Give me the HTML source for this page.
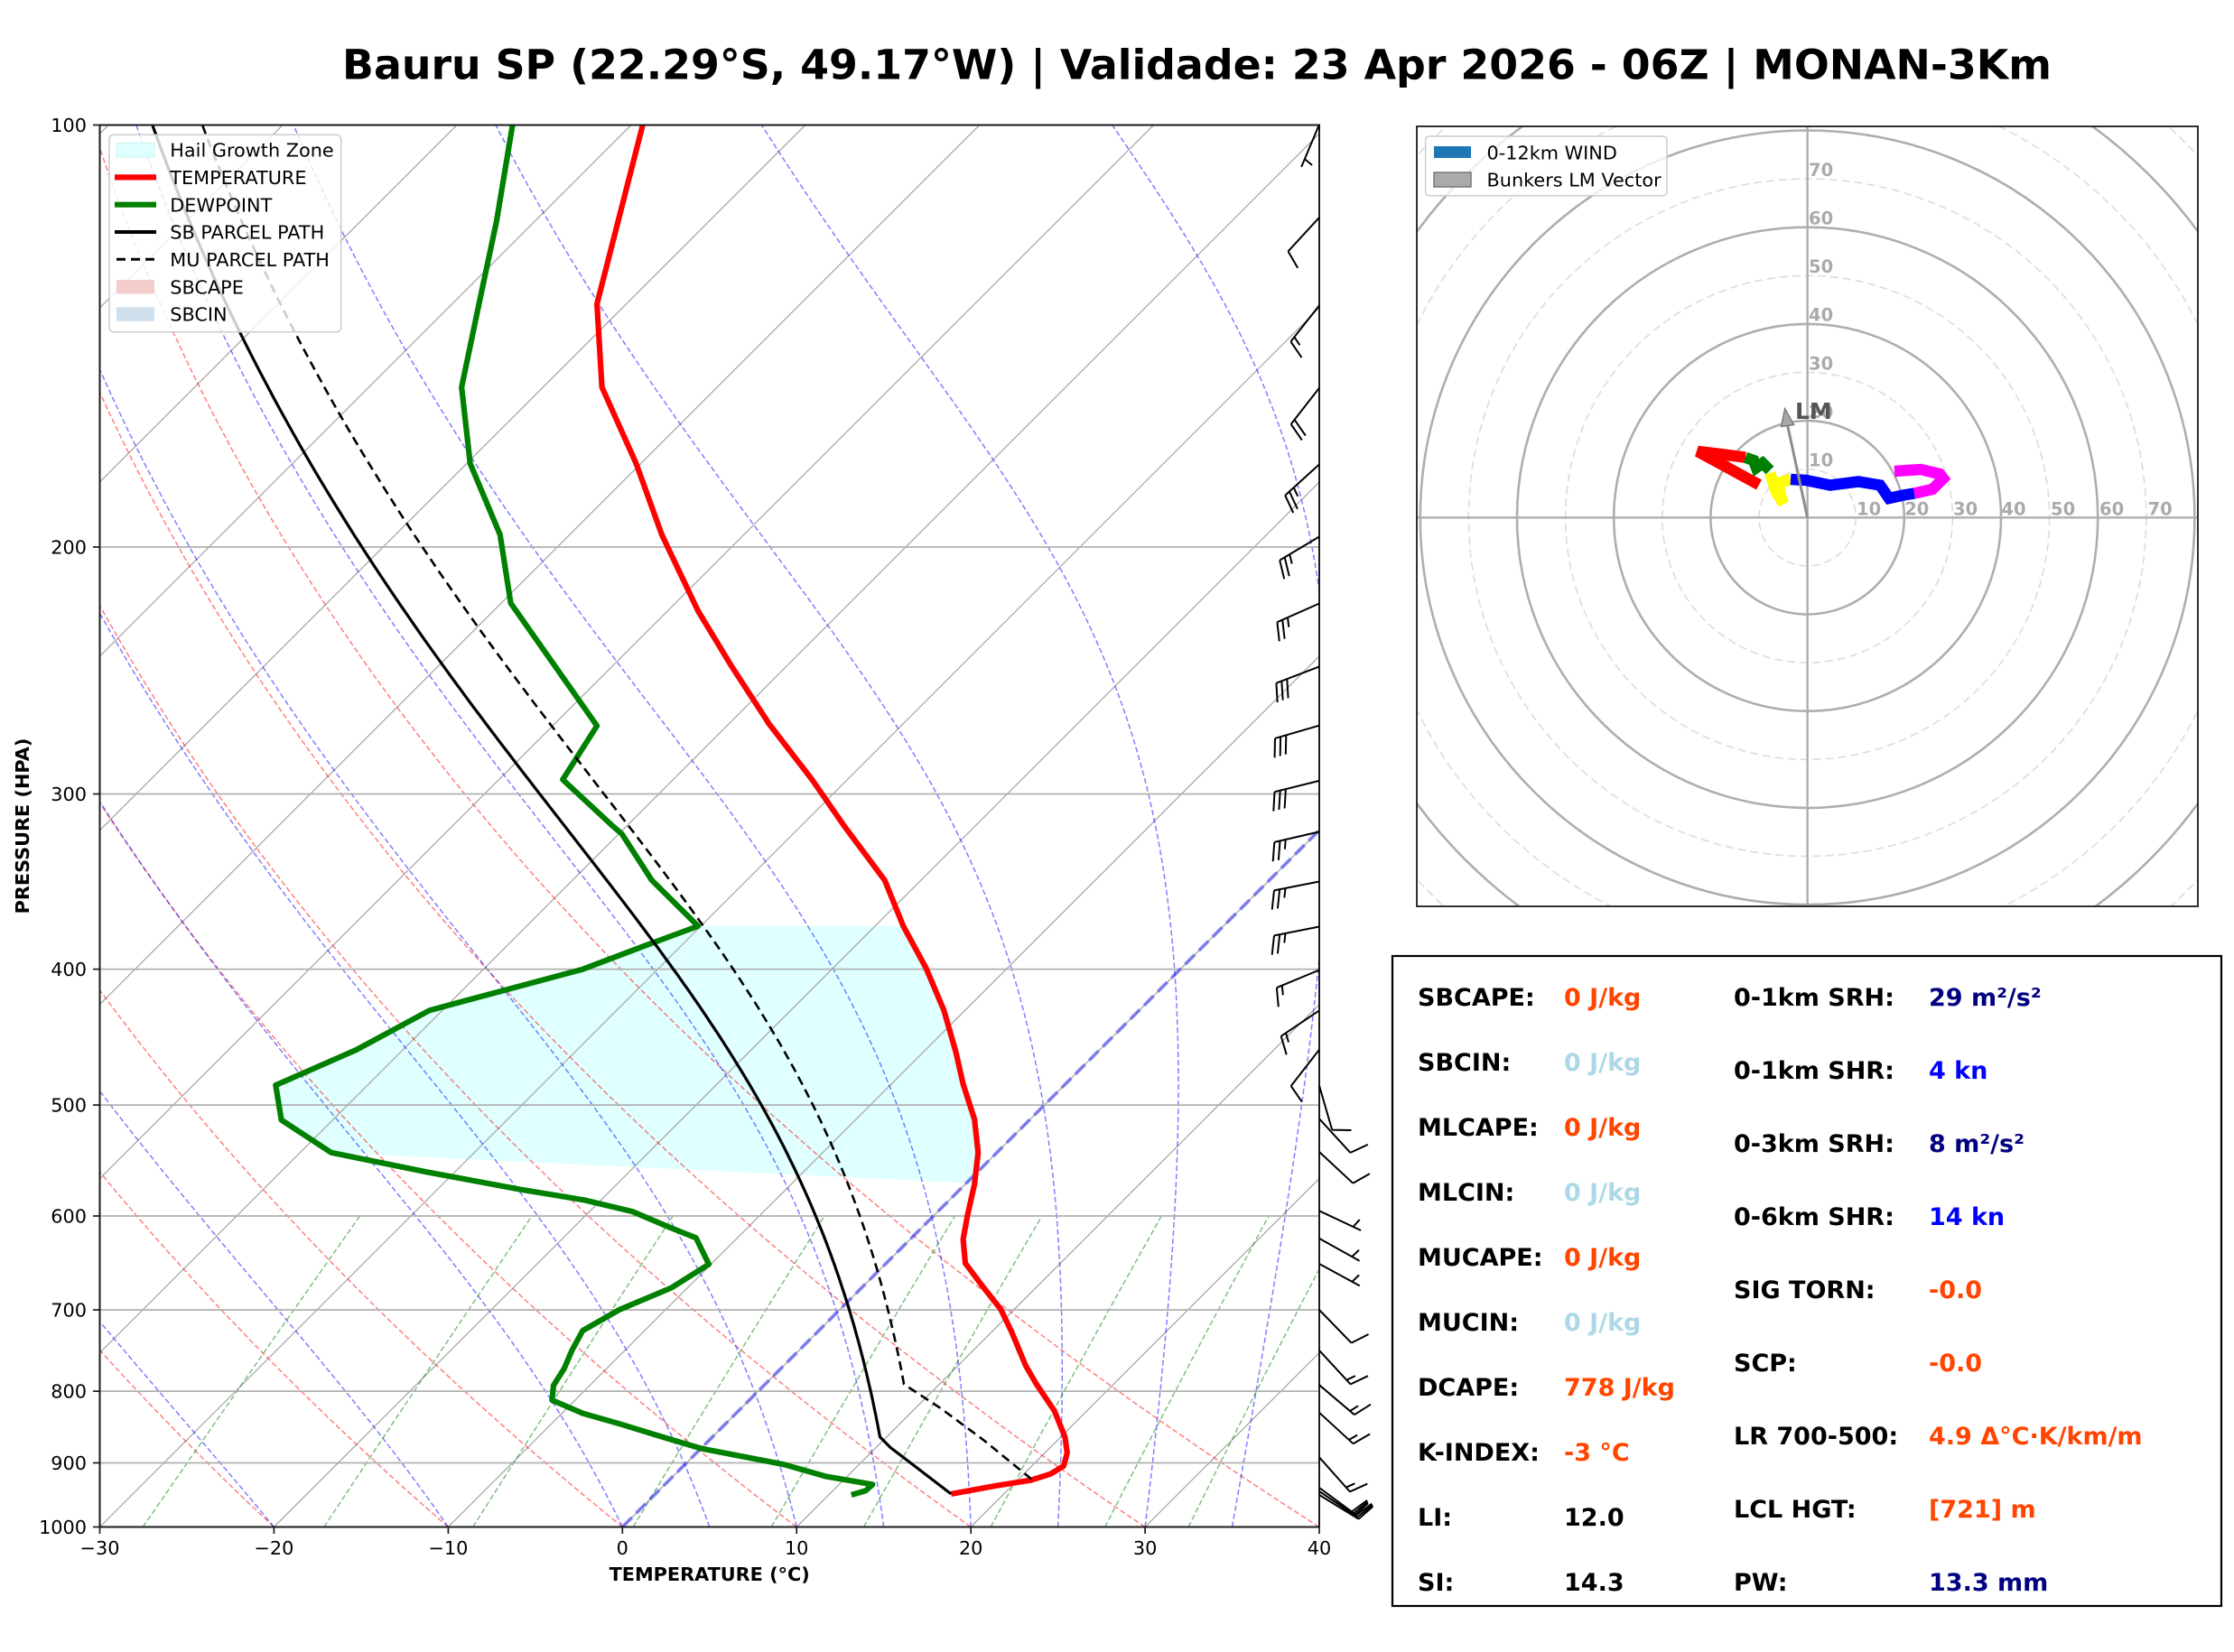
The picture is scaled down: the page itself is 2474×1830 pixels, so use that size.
<!DOCTYPE html>
<html><head><meta charset="utf-8"><title>Skew-T Bauru SP</title>
<style>
html,body{margin:0;padding:0;background:#fff;}
svg{display:block;}
text{font-family:"DejaVu Sans","Liberation Sans",sans-serif;}
.b{font-weight:bold;}
</style></head><body>
<svg id="s" width="2474" height="1830" viewBox="0 0 2474 1830" xmlns="http://www.w3.org/2000/svg">
<defs>
<clipPath id="cp"><rect x="110.5" y="138.5" width="1350.5" height="1553"/></clipPath>
<clipPath id="ch"><rect x="1569" y="140" width="865" height="864"/></clipPath>
</defs>
<rect width="2474" height="1830" fill="#fff"/>

<!-- Title -->
<text x="1325.5" y="87.5" text-anchor="middle" class="b" font-size="45.8" fill="#000">Bauru SP (22.29°S, 49.17°W) | Validade: 23 Apr 2026 - 06Z | MONAN-3Km</text>

<!-- Skew-T plot area -->
<g clip-path="url(#cp)">
  <polygon fill="#e0ffff" points="777,1025.9 1000.3,1025.9 1025.6,1072.5 1045.3,1119.2 1058.7,1165.9 1066.6,1200.9 1079.2,1240 1083.2,1276.8 1077,1310.6 366.8,1276.8 311.6,1240.6 305.3,1202.1 394.5,1163 475.7,1119.2 579.8,1091.2 645.3,1073.7 710,1049.2"/>
  <g id="bg"></g>
  <g stroke="#b0b0b0" stroke-width="1.8" fill="none">
    <line x1="110.5" x2="1461" y1="606.0" y2="606.0"/>
    <line x1="110.5" x2="1461" y1="879.5" y2="879.5"/>
    <line x1="110.5" x2="1461" y1="1073.6" y2="1073.6"/>
    <line x1="110.5" x2="1461" y1="1224.1" y2="1224.1"/>
    <line x1="110.5" x2="1461" y1="1347.0" y2="1347.0"/>
    <line x1="110.5" x2="1461" y1="1451.0" y2="1451.0"/>
    <line x1="110.5" x2="1461" y1="1541.1" y2="1541.1"/>
    <line x1="110.5" x2="1461" y1="1620.5" y2="1620.5"/>
  </g>
  <line x1="689.2" y1="1691.5" x2="1461" y2="919.7" stroke="rgba(0,0,255,0.4)" stroke-width="4" stroke-dasharray="15,6.5"/>
  <!-- temperature -->
  <polyline fill="none" stroke="#ff0000" stroke-width="6.2" stroke-linejoin="round" points="712.4,136 661.1,336.7 666.6,428.9 704.5,513.5 732.9,592.3 773.1,676.9 810.2,738.1 852,802.3 899.3,863.6 934.9,915 979.8,975.1 1000.3,1025.9 1025.6,1072.5 1045.3,1119.2 1058.7,1165.9 1066.6,1200.9 1079.2,1240 1083.2,1276.8 1079.2,1311.8 1071.3,1346.8 1066.6,1373 1069,1399.3 1088.7,1425.6 1108.4,1450.6 1120.2,1475.2 1136,1513.1 1147.9,1533.5 1167.6,1562.7 1179.4,1591.9 1181.8,1609.4 1177.9,1624 1163.6,1632.7 1141.6,1639.7 1104.5,1645.6 1053.2,1654.9"/>
  <!-- dewpoint -->
  <polyline fill="none" stroke="#008000" stroke-width="6.2" stroke-linejoin="round" points="568,136 549.9,245 530.1,338.4 511.2,428.9 520.7,513.5 553.8,592.3 565.6,668.1 661.1,804 623.2,863.6 678.5,915 688.7,923.8 721.8,975.1 773.1,1025.9 710,1049.2 645.3,1073.7 579.8,1091.2 475.7,1119.2 394.5,1163 305.3,1202.1 311.6,1240.6 366.8,1276.8 473.3,1298.4 575.9,1317.6 646.9,1329.3 700.5,1342.1 741.6,1359.6 770.8,1371.3 785,1400.5 743.2,1426.7 686.4,1450.6 645.3,1474 633.5,1495.6 624.8,1516 613,1534.7 611.4,1551 645.3,1565.6 686.4,1577.3 737.6,1593 777.1,1604.7 867.8,1622.2 915.1,1635.6 966.4,1644.4 958.5,1651.4 942.8,1656"/>
  <path id="sb" fill="none" stroke="#000" stroke-width="3.2" stroke-linejoin="round" d="M1053.2,1654.9L986.1,1603.5L975.9,1591.9L964,1545.2L946.7,1483.9L930.9,1428.5L907.2,1358.5L883.6,1300.1L836.2,1212.6L788.9,1136.7L741.6,1067.9L686.4,990.9L627.2,915L572,843.2L536.5,796.5L489.1,732.3L449.7,676.9L394.5,595.2L339.2,501.8L299.8,431.8L268.2,367.6L235,305L200,230L168,138"/>
  <path id="mu" fill="none" stroke="#000" stroke-width="2.6" stroke-dasharray="10,6" d="M1142.3,1638.5L1088.7,1594.8L1041.4,1559.8L1001.9,1533.5L992.5,1492.7L974.3,1422.6L954.6,1358.5L938.8,1311.8L919.1,1265.1L891.5,1206.8L852,1136.7L804.7,1063.8L777.1,1025.9L694.2,915L607.5,799.4L560.1,741L504.9,665.2L449.7,583.5L402.3,513.5L359,428.9L327.4,367.6L226.4,140"/>
</g>

<!-- Skew-T legend -->
<g>
  <rect x="121" y="149.3" width="256.7" height="218.4" rx="5" fill="#fff" fill-opacity="0.8" stroke="#cccccc" stroke-width="1.5"/>
  <rect x="129" y="158.5" width="42" height="15.5" fill="#e0ffff" stroke="#c4f4f4" stroke-width="1"/>
  <line x1="127" x2="173" y1="196.4" y2="196.4" stroke="#ff0000" stroke-width="6.2"/>
  <line x1="127" x2="173" y1="226.7" y2="226.7" stroke="#008000" stroke-width="6.2"/>
  <line x1="127" x2="173" y1="257" y2="257" stroke="#000" stroke-width="4"/>
  <line x1="129" x2="173" y1="287.3" y2="287.3" stroke="#000" stroke-width="3" stroke-dasharray="10,6"/>
  <rect x="129" y="310" width="42" height="15.5" fill="#f3cccc"/>
  <rect x="129" y="340.3" width="42" height="15.5" fill="#cfe0ec"/>
  <g font-size="20.8" fill="#000">
    <text x="188.3" y="173.6">Hail Growth Zone</text>
    <text x="188.3" y="204">TEMPERATURE</text>
    <text x="188.3" y="234.3">DEWPOINT</text>
    <text x="188.3" y="264.6">SB PARCEL PATH</text>
    <text x="188.3" y="294.9">MU PARCEL PATH</text>
    <text x="188.3" y="325.3">SBCAPE</text>
    <text x="188.3" y="355.6">SBCIN</text>
  </g>
</g>

<!-- Skew-T spines and ticks -->
<rect x="110.5" y="138.5" width="1350.5" height="1553" fill="none" stroke="#1a1a1a" stroke-width="2"/>
<g stroke="#1a1a1a" stroke-width="1.7">
  <line x1="103" x2="110.5" y1="138.5" y2="138.5"/>
  <line x1="103" x2="110.5" y1="606.0" y2="606.0"/>
  <line x1="103" x2="110.5" y1="879.5" y2="879.5"/>
  <line x1="103" x2="110.5" y1="1073.6" y2="1073.6"/>
  <line x1="103" x2="110.5" y1="1224.1" y2="1224.1"/>
  <line x1="103" x2="110.5" y1="1347.0" y2="1347.0"/>
  <line x1="103" x2="110.5" y1="1451.0" y2="1451.0"/>
  <line x1="103" x2="110.5" y1="1541.1" y2="1541.1"/>
  <line x1="103" x2="110.5" y1="1620.5" y2="1620.5"/>
  <line x1="103" x2="110.5" y1="1691.5" y2="1691.5"/>
  <line x1="110.5" x2="110.5" y1="1691.5" y2="1699"/>
  <line x1="303.4" x2="303.4" y1="1691.5" y2="1699"/>
  <line x1="496.4" x2="496.4" y1="1691.5" y2="1699"/>
  <line x1="689.3" x2="689.3" y1="1691.5" y2="1699"/>
  <line x1="882.2" x2="882.2" y1="1691.5" y2="1699"/>
  <line x1="1075.2" x2="1075.2" y1="1691.5" y2="1699"/>
  <line x1="1268.1" x2="1268.1" y1="1691.5" y2="1699"/>
  <line x1="1461" x2="1461" y1="1691.5" y2="1699"/>
</g>
<g font-size="20.8" fill="#000" text-anchor="end">
  <text x="96" y="146">100</text>
  <text x="96" y="613.5">200</text>
  <text x="96" y="887">300</text>
  <text x="96" y="1081.1">400</text>
  <text x="96" y="1231.6">500</text>
  <text x="96" y="1354.5">600</text>
  <text x="96" y="1458.5">700</text>
  <text x="96" y="1548.6">800</text>
  <text x="96" y="1628">900</text>
  <text x="96" y="1699">1000</text>
</g>
<g font-size="20.8" fill="#000" text-anchor="middle">
  <text x="110.5" y="1722">−30</text>
  <text x="303.4" y="1722">−20</text>
  <text x="496.4" y="1722">−10</text>
  <text x="689.3" y="1722">0</text>
  <text x="882.2" y="1722">10</text>
  <text x="1075.2" y="1722">20</text>
  <text x="1268.1" y="1722">30</text>
  <text x="1461" y="1722">40</text>
</g>
<text x="785.7" y="1751" text-anchor="middle" class="b" font-size="20.8">TEMPERATURE (°C)</text>
<text transform="translate(32,915) rotate(-90)" text-anchor="middle" class="b" font-size="20.8">PRESSURE (HPA)</text>

<!-- wind barbs -->
<g id="barbs" stroke="#000" stroke-width="2" fill="none" stroke-linejoin="round"></g>

<!-- Hodograph -->
<g clip-path="url(#ch)">
  <rect x="1569" y="140" width="865" height="864" fill="#fff"/>
  <g fill="none" stroke="#dcdcdc" stroke-width="1.6" stroke-dasharray="9,5">
    <circle cx="2001.6" cy="573.3" r="53.6"/>
    <circle cx="2001.6" cy="573.3" r="160.8"/>
    <circle cx="2001.6" cy="573.3" r="268"/>
    <circle cx="2001.6" cy="573.3" r="375.2"/>
    <circle cx="2001.6" cy="573.3" r="482.4"/>
    <circle cx="2001.6" cy="573.3" r="589.6"/>
  </g>
  <g fill="none" stroke="#aeaeae" stroke-width="2.6">
    <circle cx="2001.6" cy="573.3" r="107.2"/>
    <circle cx="2001.6" cy="573.3" r="214.4"/>
    <circle cx="2001.6" cy="573.3" r="321.6"/>
    <circle cx="2001.6" cy="573.3" r="428.8"/>
    <circle cx="2001.6" cy="573.3" r="536"/>
  </g>
  <line x1="1569" x2="2434" y1="573.3" y2="573.3" stroke="#aeaeae" stroke-width="2.4"/>
  <line x1="2001.6" x2="2001.6" y1="140" y2="1004" stroke="#aeaeae" stroke-width="2.4"/>
  <g font-size="19.5" class="b" fill="#aaaaaa">
    <text x="2056" y="570.5">10</text>
    <text x="2109.2" y="570.5">20</text>
    <text x="2163" y="570.5">30</text>
    <text x="2216.4" y="570.5">40</text>
    <text x="2271" y="570.5">50</text>
    <text x="2325" y="570.5">60</text>
    <text x="2378.5" y="570.5">70</text>
    <text x="2003" y="516.5">10</text>
    <text x="2003" y="462.9">20</text>
    <text x="2003" y="409.3">30</text>
    <text x="2003" y="355.7">40</text>
    <text x="2003" y="302.1">50</text>
    <text x="2003" y="248.5">60</text>
    <text x="2003" y="194.9">70</text>
  </g>
  <g fill="none" stroke-width="12.5" stroke-linecap="butt" stroke-linejoin="miter">
    <polyline stroke="#ff0000" points="1948,537 1915,519 1880,500 1905,503 1933,506.7"/>
    <polyline stroke="#008000" points="1933,506.7 1942,510 1945,518 1952,513 1960,521"/>
    <polyline stroke="#ffff00" points="1960,524 1967,545 1975,558 1970,543 1973,534 1983,531"/>
    <polyline stroke="#0000ff" points="1983,531 2000,532 2027,537.5 2058,533.5 2082,537.5 2092,552 2108,548.5 2120,546.5"/>
    <polyline stroke="#ff00ff" points="2120,546.5 2140,542 2152,530 2148,525 2127,520 2098,522"/>
  </g>
  <line x1="2001.6" y1="573.3" x2="1978.5" y2="466" stroke="#8c8c8c" stroke-width="3"/>
  <polygon points="1976.7,452.7 1972.5,472.5 1986.5,470.5" fill="#a8a8a8" stroke="#7a7a7a" stroke-width="1.5"/>
  <text x="1988" y="464" class="b" font-size="25" fill="#555555">LM</text>
  <!-- legend -->
  <rect x="1578.6" y="151" width="267.4" height="65.8" rx="4" fill="#fff" fill-opacity="0.8" stroke="#cccccc" stroke-width="1.5"/>
  <rect x="1588" y="162" width="41" height="13" fill="#1f77b4"/>
  <rect x="1588" y="191" width="41" height="16" fill="#aaaaaa" stroke="#777777" stroke-width="1.5"/>
  <text x="1646.5" y="176.5" font-size="20.8" fill="#000">0-12km WIND</text>
  <text x="1646.5" y="206.5" font-size="20.8" fill="#000">Bunkers LM Vector</text>
</g>
<rect x="1569" y="140" width="865" height="864" fill="none" stroke="#1a1a1a" stroke-width="1.8"/>

<!-- Parameter panel -->
<rect x="1542" y="1059" width="918" height="720" fill="#fff" stroke="#000" stroke-width="2.2"/>
<g font-size="27" class="b">
  <text x="1570" y="1114" fill="#000">SBCAPE:</text><text x="1732" y="1114" fill="#ff4500">0 J/kg</text>
  <text x="1570" y="1186" fill="#000">SBCIN:</text><text x="1732" y="1186" fill="#add8e6">0 J/kg</text>
  <text x="1570" y="1258" fill="#000">MLCAPE:</text><text x="1732" y="1258" fill="#ff4500">0 J/kg</text>
  <text x="1570" y="1330" fill="#000">MLCIN:</text><text x="1732" y="1330" fill="#add8e6">0 J/kg</text>
  <text x="1570" y="1402" fill="#000">MUCAPE:</text><text x="1732" y="1402" fill="#ff4500">0 J/kg</text>
  <text x="1570" y="1474" fill="#000">MUCIN:</text><text x="1732" y="1474" fill="#add8e6">0 J/kg</text>
  <text x="1570" y="1546" fill="#000">DCAPE:</text><text x="1732" y="1546" fill="#ff4500">778 J/kg</text>
  <text x="1570" y="1618" fill="#000">K-INDEX:</text><text x="1732" y="1618" fill="#ff4500">-3 °C</text>
  <text x="1570" y="1690" fill="#000">LI:</text><text x="1732" y="1690" fill="#000">12.0</text>
  <text x="1570" y="1762" fill="#000">SI:</text><text x="1732" y="1762" fill="#000">14.3</text>

  <text x="1920" y="1114" fill="#000">0-1km SRH:</text><text x="2136" y="1114" fill="#000080">29 m²/s²</text>
  <text x="1920" y="1195" fill="#000">0-1km SHR:</text><text x="2136" y="1195" fill="#0000ff">4 kn</text>
  <text x="1920" y="1276" fill="#000">0-3km SRH:</text><text x="2136" y="1276" fill="#000080">8 m²/s²</text>
  <text x="1920" y="1357" fill="#000">0-6km SHR:</text><text x="2136" y="1357" fill="#0000ff">14 kn</text>
  <text x="1920" y="1438" fill="#000">SIG TORN:</text><text x="2136" y="1438" fill="#ff4500">-0.0</text>
  <text x="1920" y="1519" fill="#000">SCP:</text><text x="2136" y="1519" fill="#ff4500">-0.0</text>
  <text x="1920" y="1600" fill="#000">LR 700-500:</text><text x="2136" y="1600" fill="#ff4500">4.9 Δ°C·K/km/m</text>
  <text x="1920" y="1681" fill="#000">LCL HGT:</text><text x="2136" y="1681" fill="#ff4500">[721] m</text>
  <text x="1920" y="1762" fill="#000">PW:</text><text x="2136" y="1762" fill="#000080">13.3 mm</text>
</g>
</svg>
<script>
(function(){
const NS="http://www.w3.org/2000/svg";
const X0=110.5,X1=1461,Y0=138.5,Y1=1691.5;
const kx=(X1-X0)/70, ky=(Y1-Y0)/Math.LN10;
const py=p=>Y0+Math.log(p/100)*ky;
const px=(T,p)=>X0+(T+30)*kx+(Y1-py(p));
function P(pts){return "M"+pts.map(q=>q[0].toFixed(1)+","+q[1].toFixed(1)).join("L");}
function add(g,d,a){const e=document.createElementNS(NS,"path");e.setAttribute("d",d);e.setAttribute("fill","none");for(const k in a)e.setAttribute(k,a[k]);g.appendChild(e);return e;}
const Rd=287.04749,Cpd=1004.6662,Lv=2.50084e6,eps=0.621957;
function es(T){return 6.112*Math.exp(17.67*(T-273.15)/(T-29.65));}
function f(p,T){const e=es(T);const rs=eps*e/(p-e);return (Rd*T+Lv*rs)/(p*(Cpd+Lv*Lv*rs*eps/(Rd*T*T)));}
function moist(T0,p0,p1,n){let T=T0+273.15,p=p0;const h=(p1-p0)/n;const o=[[p,T-273.15]];
 for(let i=0;i<n;i++){const k1=f(p,T),k2=f(p+h/2,T+h/2*k1),k3=f(p+h/2,T+h/2*k2),k4=f(p+h,T+h*k3);T+=h/6*(k1+2*k2+2*k3+k4);p+=h;o.push([p,T-273.15]);}
 return o;}
const bg=document.getElementById("bg");
for(let T=-120;T<=40;T+=10){add(bg,P([[px(T,1000),py(1000)],[px(T,100),py(100)]]),{stroke:"#a9a9a9","stroke-width":"1.3"});}
for(let T0=-30;T0<=40;T0+=10){const pts=[];for(let p=1000;p>=100;p-=10){const T=(T0+273.15)*Math.pow(p/1000,0.28571)-273.15;pts.push([px(T,p),py(p)]);}
 add(bg,P(pts),{stroke:"rgba(255,0,0,0.5)","stroke-width":"1.5","stroke-dasharray":"6,3"});}
[-30,-20,-10,0,5,10,15,20,25,30,35,40].forEach(T0=>{const m=moist(T0,1000,100,180);add(bg,P(m.map(q=>[px(q[1],q[0]),py(q[0])])),{stroke:"rgba(0,0,255,0.5)","stroke-width":"1.5","stroke-dasharray":"6,3"});});
[0.0004,0.001,0.002,0.004,0.007,0.01,0.016,0.024,0.032].forEach(w=>{const pts=[];for(let p=1000;p>=600;p-=10){const e=p*w/(eps+w);const l=Math.log(e/6.112);const Td=243.5*l/(17.67-l);pts.push([px(Td,p),py(p)]);}
 add(bg,P(pts),{stroke:"rgba(0,128,0,0.5)","stroke-width":"1.5","stroke-dasharray":"6,3"});});
try{
 const mp=a=>a.map(q=>[px(q[1],q[0]),py(q[0])]);
 let sbd=moist(-16.26,500,862.6,60).reverse(), sbu=moist(-16.26,500,100,120).slice(1);
 const sb=[[1053.2,1654.9],[986.1,1603.5]].concat(mp(sbd),mp(sbu));
 document.getElementById("sb").setAttribute("d",P(sb));
 let mud=moist(-13.3,500,791,60).reverse(), muu=moist(-13.3,500,100,120).slice(1);
 const mu=[[1142.3,1638.5],[1088.7,1594.8],[1041.4,1559.8]].concat(mp(mud),mp(muu));
 document.getElementById("mu").setAttribute("d",P(mu));
}catch(e){}
const bars=[[137.9,-19.3,45.9,5],[240.9,-34.3,37.3,10],[338.4,-31,39.3,15],[429.7,-31,39.8,20],[514.4,-37.7,34.2,25],[594.5,-42.7,25.5,25],[668.5,-46,20.4,25],[738.4,-47.7,18.3,30],[803.7,-49.3,14.3,30],[864.9,-51,12.7,30],[921.4,-51,11.8,25],[976.5,-51.7,10.2,25],[1026.5,-51.7,10.2,25],[1074.5,-46.7,19.4,15],[1119.4,-41.7,28,15],[1162.8,-31,39.8,10],[1202.6,14,48.4,10],[1239.3,35,38.3,10],[1276,37.3,34.7,10],[1341.3,46.7,22,5],[1371.9,44,24.5,5],[1400,45,24.5,5],[1451,35.7,36.8,10],[1495.9,34,36.8,15],[1534.2,37.3,31.6,15],[1564.8,37.3,34.2,15],[1614.3,34,38.3,15],[1648,42,31,20],[1652,43,29,20],[1656,44,27,20]];
const gb=document.getElementById("barbs");const L=51;
bars.forEach(([by,dx,dy,s])=>{const n=Math.hypot(dx,dy),ux=dx/n,uy=dy/n,qx=uy,qy=-ux,bx=1461;
 let d="M"+bx+","+by+"L"+(bx+ux*L).toFixed(1)+","+(by+uy*L).toFixed(1);
 const nf=Math.floor(s/10),half=(s%10)>=5;let off=L;const sp=0.125*L,h=0.4*L,w=0.25*L;
 for(let i=0;i<nf;i++){const ax=bx+ux*off,ay=by+uy*off;d+="M"+ax.toFixed(1)+","+ay.toFixed(1)+"L"+(ax+qx*h+ux*w/2).toFixed(1)+","+(ay+qy*h+uy*w/2).toFixed(1);off-=sp;}
 if(half){if(off===L)off-=1.5*sp;const ax=bx+ux*off,ay=by+uy*off;d+="M"+ax.toFixed(1)+","+ay.toFixed(1)+"L"+(ax+qx*h/2+ux*w/4).toFixed(1)+","+(ay+qy*h/2+uy*w/4).toFixed(1);}
 add(gb,d,{});});
})();
</script>
</body></html>
